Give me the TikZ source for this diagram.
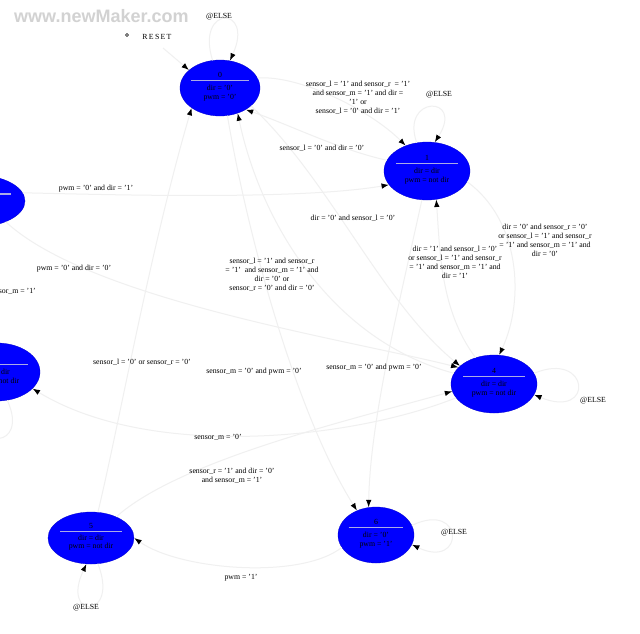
\documentclass[tikz,border=0pt]{standalone}
\usepackage{fontspec}
\setmainfont{Liberation Serif}
\newfontfamily\wmfont{Liberation Sans}
\usetikzlibrary{arrows.meta,shapes.geometric}
\definecolor{stblue}{RGB}{0,0,255}
\definecolor{edgegray}{RGB}{240,240,240}
\definecolor{divline}{RGB}{170,170,230}
\newcommand{\mystate}[8]{%
  \node[stateel, minimum width=#4, minimum height=#5] (#1) at (#2,#3) {};
  \node[sttxt] (#1t) at ({#2},{#3-0.23*#5}) {#6};
  \draw[stline] ({#2-0.36*#4},{#3-0.13*#5}) -- ({#2+0.36*#4},{#3-0.13*#5});
  \node[sttxt] (#1o) at ({#2},{#3+0.09*#5}) {#7\\#8};
}
\begin{document}
\begin{tikzpicture}[x=1pt,y=-1pt,
  stateel/.style={ellipse, fill=stblue, draw=stblue!80!black, line width=0.3pt, inner sep=0pt},
  sttxt/.style={font=\fontsize{7.8}{8.6}\selectfont, text=black, inner sep=0pt, align=center},
  stline/.style={draw=divline, line width=1.2pt},
  trans/.style={draw=edgegray, line width=1pt, -{Latex[length=7.5pt,width=5.5pt,color=black]}},
  lbl/.style={font=\fontsize{7.8}{8.9}\selectfont, align=center, inner sep=0pt},
]
\useasboundingbox (0,0) rectangle (640,633);
\clip (0,0) rectangle (640,633);
\fill[white] (0,0) rectangle (640,633);

% watermark
\node[font=\wmfont\bfseries\fontsize{18}{18}\selectfont, text=gray!35, anchor=west, inner sep=0pt] (wm) at (14,16) {www.newMaker.com};

% states
\mystate{A}{220}{88}{80}{56}{0}{dir = '0'}{pwm = '0'}
\mystate{B}{427}{171}{86}{58}{1}{dir = dir}{pwm = not dir}
\node[stateel, minimum width=98, minimum height=52] (C) at (-24,201) {};
\draw[stline] (-59,194) -- (11,194);
\mystate{D}{-3}{372}{86}{58}{3}{dir = dir}{pwm = not dir}
\mystate{E}{494}{384}{86}{58}{4}{dir = dir}{pwm = not dir}
\mystate{F}{91}{538}{86}{52}{5}{dir = dir}{pwm = not dir}
\mystate{G}{376}{535}{76}{56}{6}{dir = '0'}{pwm = '1'}

% reset
\node[circle, draw, inner sep=0pt, minimum size=3pt, line width=0.4pt] (rsym) at (127,35) {};
\node[lbl] (rst) at (157,37) {R\,E\,S\,E\,T};
\coordinate (rs) at (163,48);
\draw[trans] (rs) -- (A.150);

% transitions
\draw[trans] (A.105) .. controls (195,5) and (255,5) .. (A.70);
\draw[trans] (A.15) .. controls (300,75) and (370,110) .. (B.130);
\draw[trans] (B.165) .. controls (340,150) and (290,125) .. (A.-40);
\draw[trans] (B.110) .. controls (400,95) and (465,95) .. (B.75);
\draw[trans] (B.-15) .. controls (520,220) and (525,300) .. (E.80);
\draw[trans] (E.125) .. controls (440,310) and (440,250) .. (B.-72);
\draw[trans] (C.10) .. controls (120,195) and (300,200) .. (B.200);
\draw[trans] (C.-35) .. controls (90,300) and (350,340) .. (E.155);
\draw[trans] (A.-30) .. controls (330,180) and (380,300) .. (E.152);
\draw[trans] (E.165) .. controls (330,340) and (260,220) .. (A.-55);
\draw[trans] (F.75) .. controls (120,420) and (150,250) .. (A.215);
\draw[trans] (A.-75) .. controls (250,250) and (300,420) .. (G.128);
\draw[trans] (B.-100) .. controls (400,300) and (370,420) .. (G.105);
\draw[trans] (E.200) .. controls (350,440) and (150,460) .. (D.-25);
\draw[trans] (F.40) .. controls (180,460) and (350,420) .. (E.190);
\draw[trans] (G.200) .. controls (300,580) and (180,570) .. (F.0);
\draw[trans] (E.15) .. controls (590,350) and (595,420) .. (E.-15);
\draw[trans] (G.15) .. controls (465,500) and (465,570) .. (G.-15);
\draw[trans] (F.-75) .. controls (120,620) and (60,620) .. (F.-100);
\draw[trans] (D.-70) .. controls (30,450) and (-30,450) .. (D.-110);
\draw[trans] (C.60) .. controls (10,110) and (-40,110) .. (C.120);
\draw[trans] (C.-100) .. controls (-30,280) and (-30,300) .. (D.100);

% labels
\node[lbl] (l1) at (358,98) {sensor\_l = '1' and sensor\_r \ = '1'\\and sensor\_m = '1' and dir =\\'1' or\\sensor\_l = '0' and dir = '1'};
\node[lbl] (l2) at (322,148) {sensor\_l = '0' and dir = '0'};
\node[lbl] (l3) at (353,218) {dir = '0' and sensor\_l = '0'};
\node[lbl] (l4) at (96,189) {pwm = '0' and dir = '1'};
\node[lbl] (l5) at (74,269) {pwm = '0' and dir = '0'};
\node[lbl, anchor=east] (l6) at (36,291) {sensor\_m = '1'};
\node[lbl] (l7) at (272,275) {sensor\_l = '1' and sensor\_r\\= '1' \ and sensor\_m = '1' and\\dir = '0' or\\sensor\_r = '0' and dir = '0'};
\node[lbl] (l8) at (455,262) {dir = '1' and sensor\_l = '0'\\or sensor\_l = '1' and sensor\_r\\= '1' and sensor\_m = '1' and\\dir = '1'};
\node[lbl] (l9) at (545,240) {dir = '0' and sensor\_r = '0'\\or sensor\_l = '1' and sensor\_r\\= '1' and sensor\_m = '1' and\\dir = '0'};
\node[lbl] (l10) at (142,362) {sensor\_l = '0' or sensor\_r = '0'};
\node[lbl] (l11) at (254,372) {sensor\_m = '0' and pwm = '0'};
\node[lbl] (l12) at (374,368) {sensor\_m = '0' and pwm = '0'};
\node[lbl] (l13) at (218,437) {sensor\_m = '0'};
\node[lbl] (l14) at (232,476) {sensor\_r = '1' and dir = '0'\\and sensor\_m = '1'};
\node[lbl] (l15) at (241,578) {pwm = '1'};
\node[lbl] (e1) at (219,17) {@ELSE};
\node[lbl] (e2) at (439,95) {@ELSE};
\node[lbl] (e3) at (593,401) {@ELSE};
\node[lbl] (e4) at (454,533) {@ELSE};
\node[lbl] (e5) at (86,608) {@ELSE};
\end{tikzpicture}
\end{document}
